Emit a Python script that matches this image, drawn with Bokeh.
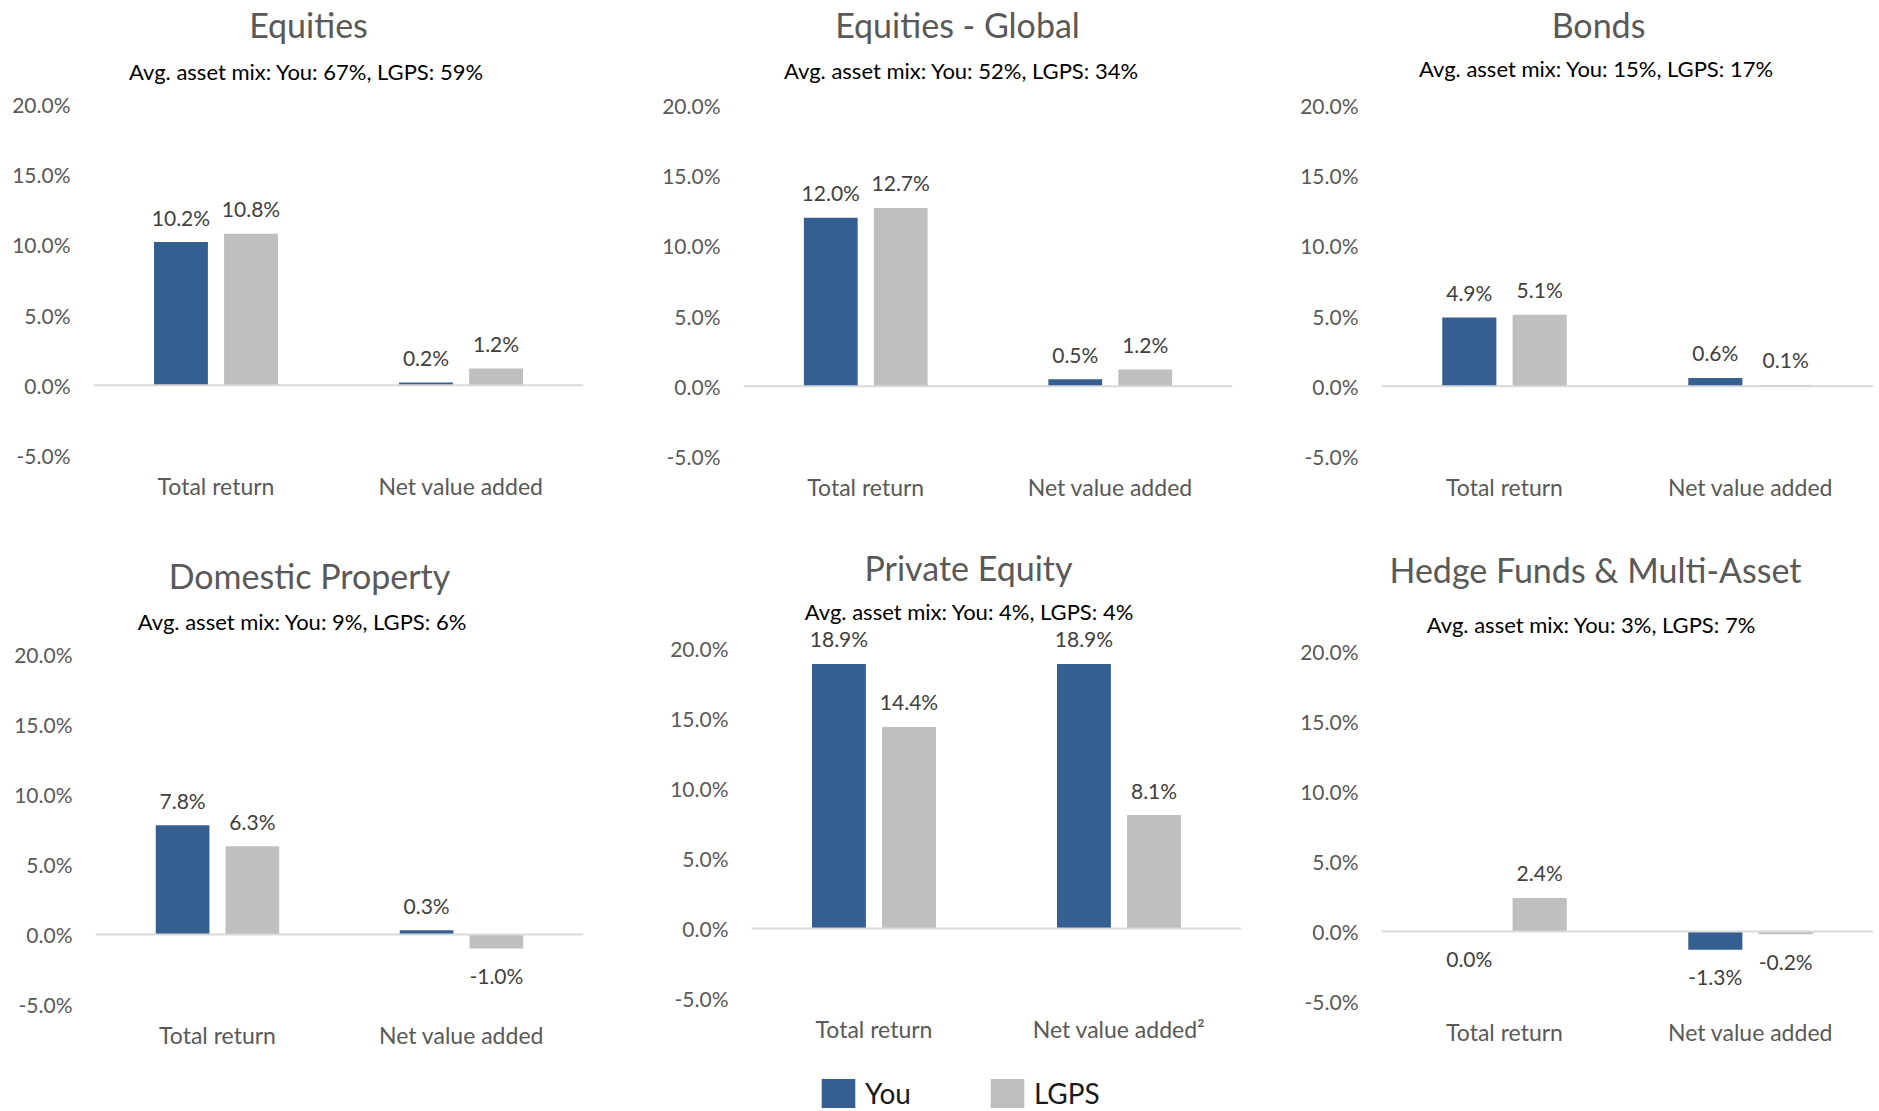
from bokeh.plotting import figure
from bokeh.models import (FactorRange, Range1d, ColumnDataSource, LabelSet, Label, Span,
                          FixedTicker, PrintfTickFormatter, Legend, LegendItem, Spacer)
from bokeh.transform import dodge
from bokeh.layouts import row, column
from bokeh.embed import file_html
from bokeh.resources import INLINE
from bokeh.core.properties import value

# ---------------- data ----------------
panel_titles = ["Equities", "Equities - Global", "Bonds",
                "Domestic Property", "Private Equity", "Hedge Funds & Multi-Asset"]
categories = ["Total return", "Net value added"]
categories_pe = ["Total return", "Net value added\u00b2"]
mix_you = [67, 52, 15, 9, 4, 3]
mix_lgps = [59, 34, 17, 6, 4, 7]
you_total = [10.2, 12.0, 4.9, 7.8, 18.9, 0.0]
you_nva = [0.2, 0.5, 0.6, 0.3, 18.9, -1.3]
lgps_total = [10.8, 12.7, 5.1, 6.3, 14.4, 2.4]
lgps_nva = [1.2, 1.2, 0.1, -1.0, 8.1, -0.2]
series_names = ["You", "LGPS"]
y_ticks = [-5, 0, 5, 10, 15, 20]

# ---------------- style ----------------
BLUE = "#365F91"
GREY = "#BFBFBF"
FONT = "Lato"
AXIS_TXT = "#595959"
LABEL_TXT = "#404040"
Y_MIN, Y_MAX = -5, 20
BAR_W = 0.22
DODGE = 0.143

# page geometry per panel:
# (fig_x, fig_w, frame_left, frame_right, fig_y, fig_h, y_at_20, y_at_minus5)
geom = [
    (0, 640, 93, 583, 0, 530, 104, 455),
    (640, 620, 743, 1232, 0, 530, 105, 456),
    (1260, 617, 1381, 1873, 0, 530, 105, 456),
    (0, 640, 95, 583, 530, 538, 654, 1004),
    (640, 620, 751, 1241, 530, 538, 648, 998),
    (1260, 617, 1381, 1873, 530, 538, 651, 1001),
]
# page positions of title / subtitle centres
title_pos = [(308, 24), (957, 24), (1598, 24), (309, 575), (968, 567), (1595, 569)]
sub_pos = [(306, 71), (961, 70), (1596, 68), (302, 621), (969, 611), (1591, 624)]

figs = []
for i in range(6):
    fx, fw_tot, fl, fr, fy, fh_tot, y20, ym5 = geom[i]
    fw = fr - fl
    fh = ym5 - fy
    pxpp = (ym5 - y20) / float(Y_MAX - Y_MIN)
    y_top = Y_MAX + (y20 - fy) / pxpp
    cats = categories_pe if i == 4 else categories
    p = figure(x_range=FactorRange(factors=cats, range_padding=0, factor_padding=0),
               y_range=Range1d(Y_MIN, y_top),
               frame_width=fw, frame_height=fh,
               min_border_left=fl - fx, min_border_right=fx + fw_tot - fr,
               min_border_top=0, min_border_bottom=fy + fh_tot - ym5,
               output_backend="svg", toolbar_location=None, title=None)
    p.outline_line_color = None
    p.background_fill_color = "white"
    p.border_fill_color = "white"
    p.xgrid.grid_line_color = None
    p.ygrid.grid_line_color = None

    # y axis
    p.yaxis.ticker = FixedTicker(ticks=y_ticks)
    p.yaxis.formatter = PrintfTickFormatter(format="%.1f%%")
    p.yaxis.axis_line_color = None
    p.yaxis.major_tick_line_color = None
    p.yaxis.minor_tick_line_color = None
    p.yaxis.major_tick_out = 0
    p.yaxis.major_tick_in = 0
    p.yaxis.major_label_standoff = 23
    p.yaxis.major_label_text_font = FONT
    p.yaxis.major_label_text_font_size = "21px"
    p.yaxis.major_label_text_color = AXIS_TXT

    # x axis
    p.xaxis.axis_line_color = None
    p.xaxis.major_tick_line_color = None
    p.xaxis.minor_tick_line_color = None
    p.xaxis.major_tick_out = 0
    p.xaxis.major_tick_in = 0
    p.xaxis.major_label_standoff = 16
    p.xaxis.major_label_text_font = FONT
    p.xaxis.major_label_text_font_size = "23px"
    p.xaxis.major_label_text_color = AXIS_TXT

    p.add_layout(Span(location=0, dimension="width", line_color="#D9D9D9", line_width=2))

    vals = {"You": [you_total[i], you_nva[i]], "LGPS": [lgps_total[i], lgps_nva[i]]}
    for s, off, col in (("You", -DODGE, BLUE), ("LGPS", DODGE, GREY)):
        v = vals[s]
        src = ColumnDataSource(dict(
            cat=cats, val=v,
            lbl=[f"{x:.1f}%" for x in v],
            yoff=[25 if x > 0 else -27 for x in v],
        ))
        p.vbar(x=dodge("cat", off, range=p.x_range), top="val", bottom=0,
               width=BAR_W, source=src, fill_color=col, line_color=None)
        p.add_layout(LabelSet(x=dodge("cat", off, range=p.x_range), y="val", text="lbl",
                              y_offset="yoff", source=src,
                              text_align="center", text_baseline="middle",
                              text_font=value(FONT), text_font_size="21px",
                              text_color=LABEL_TXT))

    def to_data(px, py):
        return (px - fl) / (fw / 2.0), Y_MAX + (y20 - py) / pxpp
    tx, ty = to_data(*title_pos[i])
    p.add_layout(Label(x=tx, y=ty, text=panel_titles[i], text_align="center",
                       text_baseline="middle", text_font=FONT, text_font_size="34px",
                       text_color=AXIS_TXT))
    sx, sy = to_data(*sub_pos[i])
    p.add_layout(Label(x=sx, y=sy,
                       text=f"Avg. asset mix: You: {mix_you[i]}%, LGPS: {mix_lgps[i]}%",
                       text_align="center", text_baseline="middle", text_font=FONT,
                       text_font_size="22px", text_color="#000000"))
    figs.append(p)

# ---------------- legend strip ----------------
LEG_X, LEG_Y, LEG_W, LEG_H = 640, 1068, 620, 43
pl = figure(x_range=Range1d(0, 1), y_range=Range1d(0, 1),
            width=LEG_W, height=LEG_H, min_border=0,
            x_axis_location=None, y_axis_location=None,
            output_backend="svg", toolbar_location=None, title=None)
pl.outline_line_color = None
pl.xgrid.grid_line_color = None
pl.ygrid.grid_line_color = None
# legend swatches only: one bar each, placed outside the visible range
r_you = pl.vbar(x=[-10], top=[-10], width=0.1, fill_color=BLUE, line_color=None)
r_lgps = pl.vbar(x=[-10], top=[-10], width=0.1, fill_color=GREY, line_color=None)
legend = Legend(items=[LegendItem(label=series_names[0], renderers=[r_you]),
                       LegendItem(label=series_names[1], renderers=[r_lgps])],
                orientation="horizontal", location=(817 - LEG_X, 0),
                label_text_font=FONT, label_text_font_size="28px",
                label_text_color="#1a1a1a",
                glyph_width=42, glyph_height=36, label_standoff=6, spacing=75,
                padding=0, margin=0, border_line_color=None,
                background_fill_alpha=0)
pl.add_layout(legend)

layout = column(row(figs[0], figs[1], figs[2]),
                row(figs[3], figs[4], figs[5]),
                row(Spacer(width=LEG_X, height=LEG_H), pl))
open("out.html", "w").write(file_html(layout, INLINE))
